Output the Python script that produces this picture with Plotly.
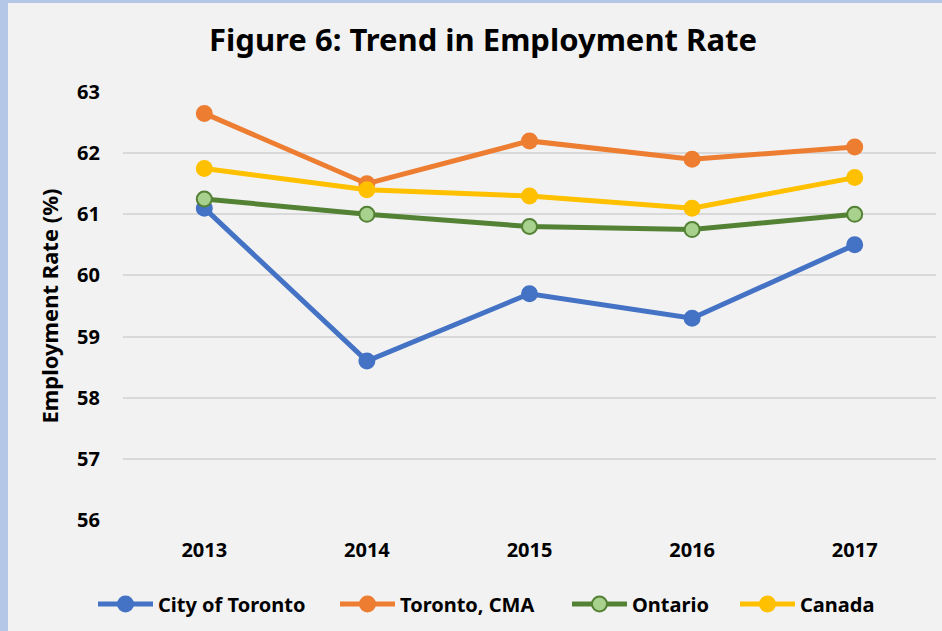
import plotly.graph_objects as go

years = ["2013", "2014", "2015", "2016", "2017"]
city_of_toronto = [61.1, 58.6, 59.7, 59.3, 60.5]
toronto_cma = [62.65, 61.5, 62.2, 61.9, 62.1]
ontario = [61.25, 61.0, 60.8, 60.75, 61.0]
canada = [61.75, 61.4, 61.3, 61.1, 61.6]
y_ticks = [56, 57, 58, 59, 60, 61, 62, 63]

FONT = "Noto Sans"
W, H = 942, 631
L, R, T, B = 123, 6, 92, 111
pw = W - L - R
ph = H - T - B
bottom_px = T + ph

fig = go.Figure()
series = [
    ("City of Toronto", city_of_toronto, "#4472c4", "#4472c4", "#4472c4", 93),
    ("Toronto, CMA", toronto_cma, "#ed7d31", "#ed7d31", "#ed7d31", 335),
    ("Ontario", ontario, "#548235", "#a9d18e", "#548235", 567),
    ("Canada", canada, "#ffc000", "#ffc000", "#ffc000", 735),
]
legend_layout = {}
for i, (name, vals, lc, mfill, mline, lx) in enumerate(series):
    lname = "legend" if i == 0 else f"legend{i + 1}"
    fig.add_trace(go.Scatter(
        x=years, y=vals, name=f"<b>{name}</b>", mode="lines+markers",
        line=dict(color=lc, width=5),
        marker=dict(size=15, color=mfill, line=dict(color=mline, width=2)),
        legend=lname,
    ))
    legend_layout[lname] = dict(
        orientation="h", x=(lx - L) / pw, xanchor="left",
        y=(bottom_px - 604) / ph, yanchor="middle",
        font=dict(family=FONT, size=20, color="#000000"), itemwidth=55,
        bgcolor="rgba(0,0,0,0)", borderwidth=0,
    )

# grey panel over lavender frame
fig.add_shape(type="rect", xref="paper", yref="paper", layer="below",
              x0=(8 - L) / pw, x1=(W + 10 - L) / pw,
              y0=(bottom_px - (H + 10)) / ph, y1=(bottom_px - 3) / ph,
              fillcolor="#f2f2f2", line=dict(width=0))

fig.update_layout(
    width=W, height=H,
    margin=dict(l=L, r=R, t=T, b=B),
    paper_bgcolor="#b4c7e7",
    plot_bgcolor="#f2f2f2",
    title=dict(text="<b>Figure 6: Trend in Employment Rate</b>", x=483 / W, xanchor="center",
               y=1 - 40 / H, yanchor="middle", font=dict(family=FONT, size=31, color="#000000")),
    font=dict(family=FONT, color="#000000"),
    showlegend=True,
    xaxis=dict(type="category", range=[-0.5, 4.5], showgrid=False, zeroline=False,
               showline=False, ticks="", tickfont=dict(family=FONT, size=20, color="#000000"),
               tickprefix="<b>", ticksuffix="</b>", ticklabelstandoff=16),
    yaxis=dict(range=[56, 63], tickvals=y_ticks, ticktext=[f"<b>{v}</b>" for v in y_ticks],
               showgrid=True, gridcolor="#d9d9d9", gridwidth=2, zeroline=False, showline=False,
               ticks="", tickfont=dict(family=FONT, size=20, color="#000000"), ticklabelstandoff=22,
               title=dict(text="<b>Employment Rate (%)</b>", font=dict(family=FONT, size=22, color="#000000"),
                          standoff=12)),
    **legend_layout,
)
fig.write_html("out.html", config={"displayModeBar": False},
               post_script="document.body.style.margin='0';")
